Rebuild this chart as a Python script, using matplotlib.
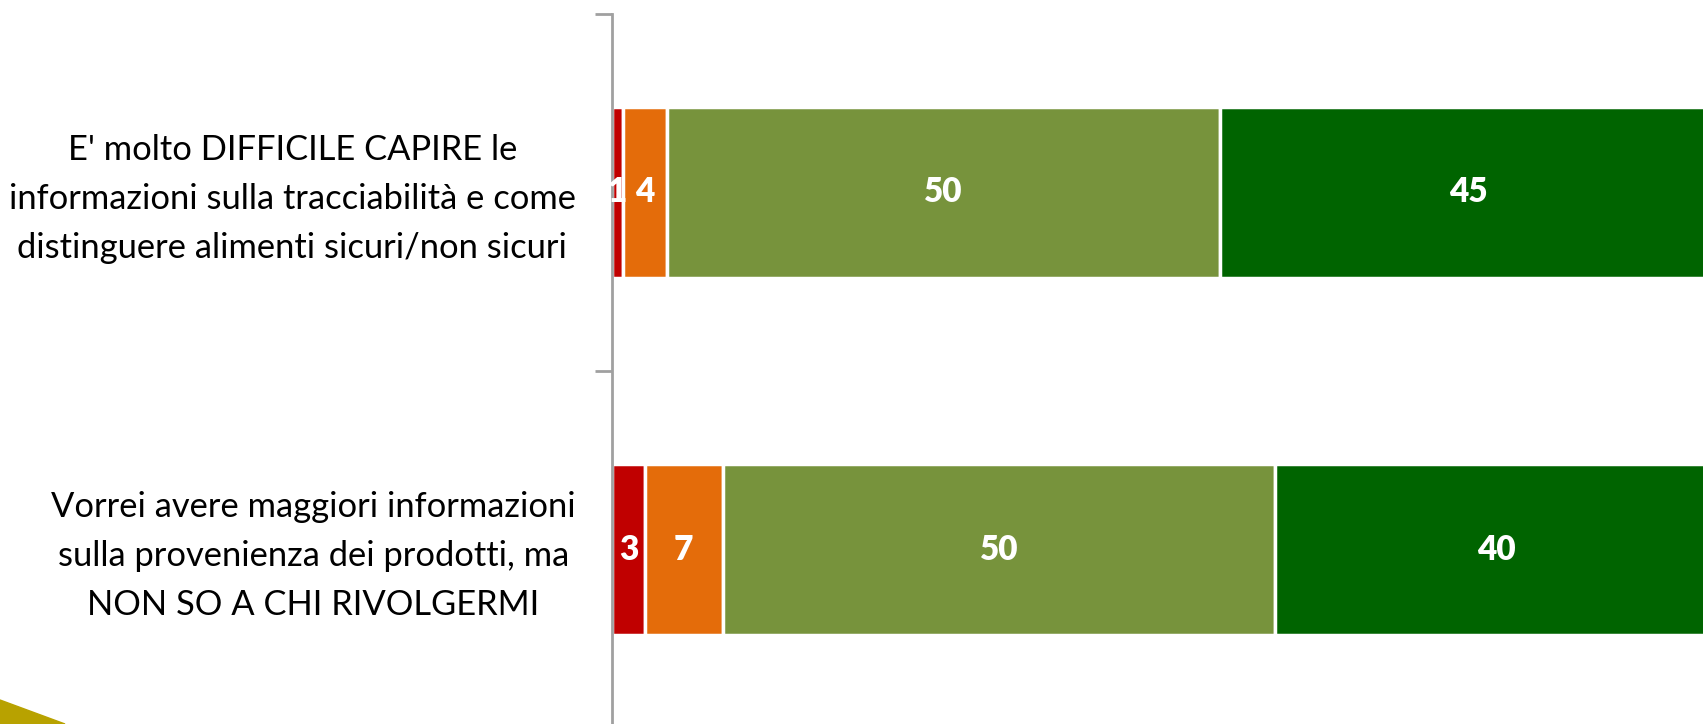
import matplotlib
matplotlib.use("Agg")
import matplotlib.pyplot as plt
import matplotlib.transforms as mtransforms
from matplotlib.patches import Polygon

# dati
categorie = [
    "E' molto DIFFICILE CAPIRE le\ninformazioni sulla tracciabilità e come\ndistinguere alimenti sicuri/non sicuri",
    "Vorrei avere maggiori informazioni\nsulla provenienza dei prodotti, ma\nNON SO A CHI RIVOLGERMI",
]
per_niente = [1, 3]
poco = [4, 7]
abbastanza = [50, 50]
molto = [45, 40]

serie = [per_niente, poco, abbastanza, molto]
colori = ["#C00000", "#E46C0A", "#77933C", "#006400"]

plt.rcParams["font.family"] = ["Lato", "DejaVu Sans"]

W, H = 1703, 724
fig = plt.figure(figsize=(W / 100, H / 100), dpi=100)
ax = fig.add_axes([612 / W, -4 / H, (W - 612) / W, 714 / H])

y = list(range(len(categorie)))
left = [0] * len(categorie)
for valori, col in zip(serie, colori):
    bars = ax.barh(y, valori, left=left, height=0.48, color=col,
                   edgecolor="white", linewidth=2.5)
    for b, v in zip(bars, valori):
        ax.text(b.get_x() + b.get_width() / 2, b.get_y() + b.get_height() / 2,
                str(v), ha="center", va="center", color="white",
                fontsize=24, fontweight="heavy")
    left = [l + v for l, v in zip(left, valori)]

ax.set_xlim(0, 98.7)
ax.set_ylim(1.5, -0.5)
ax.set_xticks([])

# etichette categorie (major) e divisori (minor)
ax.set_yticks(y)
ax.set_yticklabels(categorie, fontsize=24.8, ha="right", multialignment="center",
                   linespacing=1.66)
ax.tick_params(axis="y", which="major", length=0, pad=26)
ax.set_yticks([-0.5, 0.5, 1.5], minor=True)
ax.tick_params(axis="y", which="minor", length=12, width=2, color="#A0A0A0")

# piccolo spostamento verso l'alto delle etichette
sposta = mtransforms.ScaledTranslation(0, 5 / 100, fig.dpi_scale_trans)
for lab in ax.get_yticklabels():
    lab.set_transform(lab.get_transform() + sposta)

for s in ["top", "right", "bottom"]:
    ax.spines[s].set_visible(False)
ax.spines["left"].set_color("#A0A0A0")
ax.spines["left"].set_linewidth(2)

# triangolo decorativo in basso a sinistra
fig.patches.append(Polygon([(0, 24 / H), (65 / W, 0), (0, 0)], closed=True,
                           transform=fig.transFigure, color="#B8A200",
                           zorder=0))

fig.savefig("out.png", dpi=100)
